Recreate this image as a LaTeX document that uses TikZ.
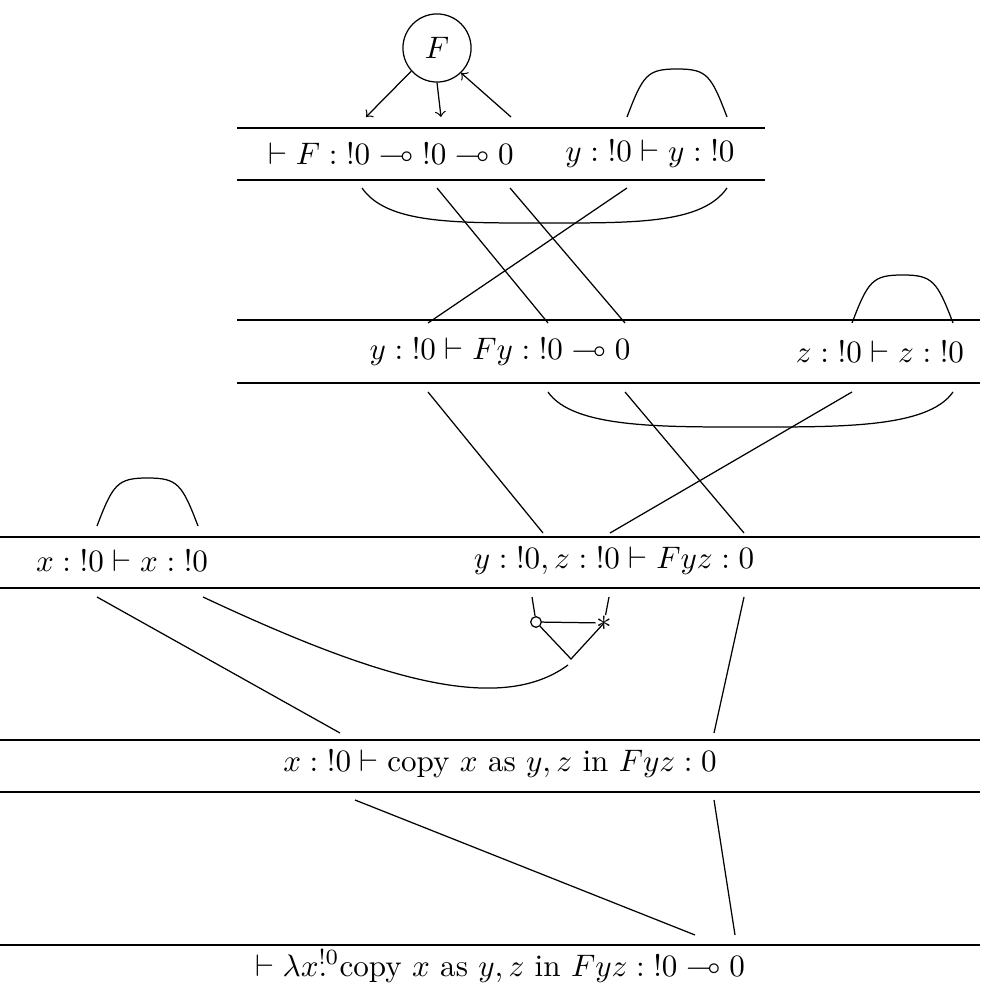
\documentclass[tikz,border=0pt]{standalone}
\usepackage{amsmath,amssymb}
\usetikzlibrary{calc}
\begin{document}
\begin{tikzpicture}[x=0.0113cm,y=-0.0113cm]
  \tikzstyle{seq}=[inner sep=1pt]
  \tikzstyle{axcap}=[to path={.. controls +(16,-42) and +(-30,0) .. ($(\tikztostart)!0.5!(\tikztotarget)+(0,-48)$) .. controls +(30,0) and +(-16,-42) .. (\tikztotarget)}]
  \tikzstyle{cutcup}=[to path={.. controls +(25,36) and +(-90,0) .. ($(\tikztostart)!0.5!(\tikztotarget)+(0,35)$) .. controls +(90,0) and +(-25,36) .. (\tikztotarget)}]
  \useasboundingbox (0,0) rectangle (980,989);

  % the box F
  \node[draw, circle, minimum size=0.77cm, inner sep=0pt] (boxF) at (437,48) {$F$};

  % sequents
  \node[seq] (seqF) at (391,154) {$\vdash F : {!0} \multimap {!0} \multimap 0$};
  \node[seq] (seqY) at (650,154) {$y : {!0} \vdash y : {!0}$};
  \node[seq] (seqFy) at (500,352) {$y : {!0} \vdash Fy : {!0} \multimap 0$};
  \node[seq] (seqZ) at (880,352) {$z : {!0} \vdash z : {!0}$};
  \node[seq] (seqX) at (122,561) {$x : {!0} \vdash x : {!0}$};
  \node[seq] (seqFyz) at (614,561) {$y : {!0}, z : {!0} \vdash Fyz : 0$};
  \node[seq] (seqCopy) at (500,764) {$x : {!0} \vdash \text{copy } x \text{ as } y, z \text{ in } Fyz : 0$};
  \node[seq] (seqLam) at (500,966) {$\vdash \lambda x\makebox[0pt][l]{.}^{!0}\text{copy } x \text{ as } y, z \text{ in } Fyz : {!0} \multimap 0$};

  % rules
  \draw (237,128) -- (765,128);
  \draw (237,180) -- (765,180);
  \draw (237,320) -- (980,320);
  \draw (237,383) -- (980,383);
  \draw (0,537) -- (980,537);
  \draw (0,588) -- (980,588);
  \draw (0,740) -- (980,740);
  \draw (0,792) -- (980,792);
  \draw (0,945) -- (980,945);

  % ports
  \coordinate (a1) at (366,117);
  \coordinate (a2) at (441,117);
  \coordinate (a3) at (511,117);
  \coordinate (y1) at (627,117);
  \coordinate (y2) at (727,117);
  \coordinate (b1) at (362,188);
  \coordinate (b2) at (437,188);
  \coordinate (b3) at (510,188);
  \coordinate (b4) at (627,188);
  \coordinate (b5) at (727,188);
  \coordinate (c1) at (428,323);
  \coordinate (c2) at (548,323);
  \coordinate (c3) at (625,323);
  \coordinate (z1) at (852,323);
  \coordinate (z2) at (953,323);
  \coordinate (d1) at (428,392);
  \coordinate (d2) at (548,392);
  \coordinate (d3) at (625,392);
  \coordinate (d4) at (852,392);
  \coordinate (d5) at (953,392);
  \coordinate (x1) at (97,526);
  \coordinate (x2) at (198,526);
  \coordinate (e1) at (543,533);
  \coordinate (e2) at (610,533);
  \coordinate (e3) at (744,533);
  \coordinate (f1) at (97,597);
  \coordinate (f2) at (203,597);
  \coordinate (f3) at (532,597);
  \coordinate (f4) at (609,597);
  \coordinate (f5) at (744,597);
  \coordinate (g1) at (340,733);
  \coordinate (g2) at (714,733);
  \coordinate (h1) at (355,800);
  \coordinate (h2) at (714,800);
  \coordinate (k1) at (695,935);
  \coordinate (k2) at (735,935);

  % copy gadget
  \node[draw, circle, inner sep=0pt, minimum size=0.12cm] (cpo) at (536,622) {};
  \node[inner sep=0pt] (cps) at (604,623) {$\ast$};
  \coordinate (cpa) at (571,659);
  \draw (cpo) -- (cps);
  \draw (cpo) -- (cpa) -- (cps.center);

  % wires
  \draw[->] (boxF.222) -- (a1);
  \draw[->] (boxF.south) -- (a2);
  \draw[->] (a3) -- (boxF.314);
  \draw (y1) to[axcap] (y2);
  \draw (b1) to[cutcup] (b5);
  \draw (b2) -- (c2);
  \draw (b3) -- (c3);
  \draw (b4) -- (c1);
  \draw (z1) to[axcap] (z2);
  \draw (d2) to[cutcup] (d5);
  \draw (d1) -- (e1);
  \draw (d3) -- (e3);
  \draw (d4) -- (e2);
  \draw (x1) to[axcap] (x2);
  \draw (f1) -- (g1);
  \draw (f2) .. controls (380,680) and (500,715) .. ($(cpa)+(-3,6)$);
  \draw (f3) -- (cpo);
  \draw (f4) -- (cps);
  \draw (f5) -- (g2);
  \draw (h1) -- (k1);
  \draw (h2) -- (k2);
\end{tikzpicture}
\end{document}
